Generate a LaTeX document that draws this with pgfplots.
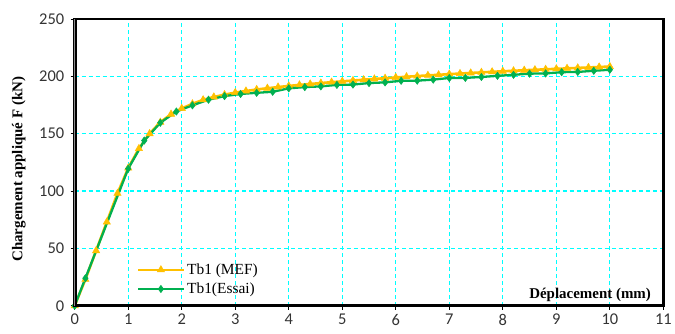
\documentclass[border=0pt]{standalone}
\usepackage{pgfplots}
\pgfplotsset{compat=1.18}
\usepackage{fontspec}
\setmainfont{Liberation Serif}
\newfontfamily\carlito{Carlito}
\definecolor{mefor}{HTML}{FFC000}
\definecolor{essgr}{HTML}{00B050}
\definecolor{gridc}{HTML}{00FFFF}
\begin{document}
\begin{tikzpicture}
\path (-75pt,-28pt) rectangle (600pt,307pt);
\begin{axis}[
  name=ax,
  at={(0,0)}, anchor=south west,
  scale only axis, width=591pt, height=288pt,
  clip=false,
  xmin=0, xmax=11, ymin=0, ymax=250,
  xtick={0,1,...,11}, ytick={0,50,...,250},
  tick align=outside, xtick pos=bottom, ytick pos=left,
  major tick length=4pt,
  tick style={black, line width=0.8pt},
  axis line style={black, line width=2.6pt},
  grid=major,
  major grid style={gridc, line width=1.2pt, dash pattern=on 4pt off 3pt},
  /pgf/number format/assume math mode=true,
  ticklabel style={font=\carlito\fontsize{16.5}{16.5}\selectfont, text=black!80},
  xticklabel style={yshift=-1pt},
  yticklabel style={xshift=-3pt},
  ylabel={Chargement appliqué F (kN)},
  ylabel style={font=\bfseries\fontsize{15}{15}\selectfont, at={(rel axis cs:-0.0948,0.476)}, anchor=center},
  legend style={at={(rel axis cs:0.105,0.092)}, anchor=west, draw=none, fill=none,
    font=\fontsize{15.5}{15.5}\selectfont, row sep=3pt, inner sep=0pt},
  legend cell align=left,
  legend image code/.code={\draw[mark repeat=2,mark phase=2] plot coordinates {(0pt,0pt) (23pt,0pt) (46pt,0pt)};},
]
\addplot[mefor, line width=2.6pt, mark=triangle*, mark size=4.2pt, mark options={solid, fill=mefor, line width=0.5pt}] coordinates {
(0,0) (0.2,23) (0.4,48) (0.6,73) (0.8,98) (1.0,120) (1.2,137) (1.4,150) (1.6,160) (1.8,167)
(2.0,172) (2.2,176) (2.4,179.5) (2.6,182) (2.8,184) (3.0,185.8) (3.2,187.2) (3.4,188.5) (3.6,189.6) (3.8,190.6)
(4.0,191.6) (4.2,192.5) (4.4,193.3) (4.6,194.1) (4.8,194.9) (5.0,195.6) (5.2,196.3) (5.4,197) (5.6,197.7) (5.8,198.3)
(6.0,199) (6.2,199.6) (6.4,200.2) (6.6,200.8) (6.8,201.3) (7.0,201.9) (7.2,202.4) (7.4,202.9) (7.6,203.4) (7.8,203.9)
(8.0,204.4) (8.2,204.8) (8.4,205.3) (8.6,205.7) (8.8,206.1) (9.0,206.5) (9.2,206.9) (9.4,207.3) (9.6,207.7) (9.8,208.1) (10.0,208.5)
};
\addlegendentry{Tb1 (MEF)}
\addplot[essgr, line width=2.3pt, mark=diamond*, mark size=3.7pt, mark options={solid, fill=essgr, line width=0.5pt}] coordinates {
(0,0) (0.2,24) (1.0,119.5) (1.3,144) (1.6,159.5) (1.9,169.3) (2.2,174.7) (2.5,179.6) (2.8,182.7)
(3.1,184.6) (3.4,185.6) (3.7,186.5) (4.0,189.5) (4.3,190.6) (4.6,191.2) (4.9,192.5) (5.2,192.8) (5.5,194.1) (5.8,194.7)
(6.1,196.1) (6.4,196.2) (6.7,197.1) (7.0,198.5) (7.3,198.6) (7.6,199.4) (7.9,200.4) (8.2,201.3) (8.5,202.3) (8.8,202.5)
(9.1,203.6) (9.4,203.8) (9.7,204.8) (10.0,205.7)
};
\addlegendentry{Tb1(Essai)}
\node[font=\bfseries\fontsize{15}{15}\selectfont, anchor=base east] at ([xshift=-9pt,yshift=7pt]rel axis cs:1,0) {Déplacement (mm)};
\end{axis}
\draw[black, line width=2.8pt] (ax.south west) rectangle (ax.north east);
\draw[black, line width=4.2pt] (ax.south west) -- (ax.north west);
\draw[black!45, line width=1.4pt] (ax.south west) -- (ax.north west);
\end{tikzpicture}
\end{document}
